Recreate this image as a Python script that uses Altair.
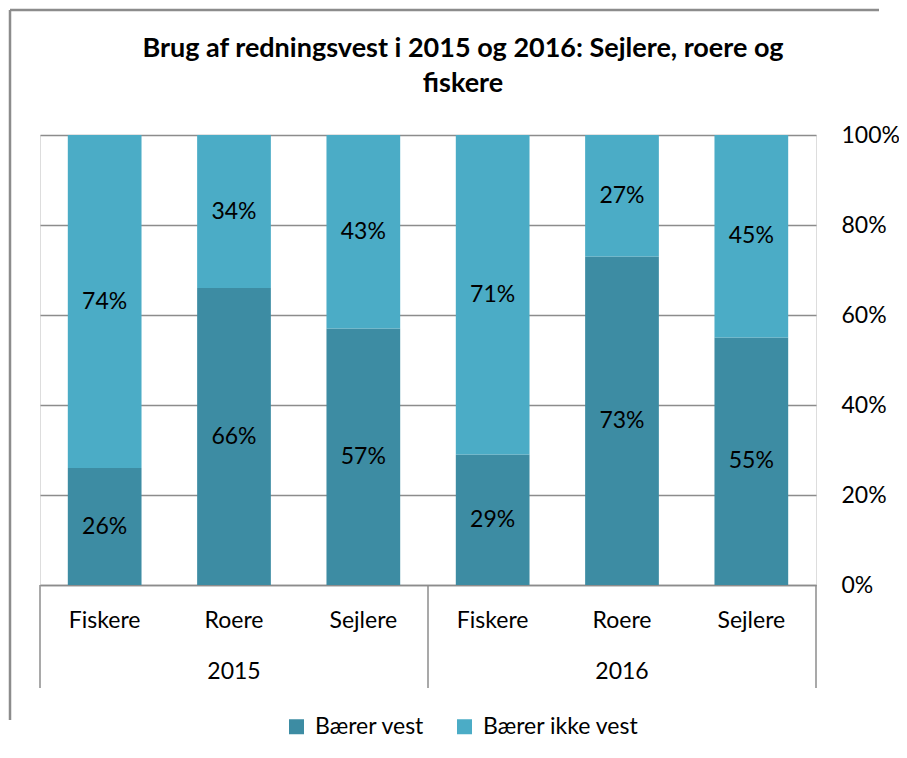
import altair as alt
import pandas as pd

years = ["2015", "2015", "2015", "2016", "2016", "2016"]
groups = ["Fiskere", "Roere", "Sejlere", "Fiskere", "Roere", "Sejlere"]
wears = [26, 66, 57, 29, 73, 55]
not_wears = [74, 34, 43, 71, 27, 45]
series = ["Bærer vest", "Bærer ikke vest"]
colors = ["#3D8CA3", "#4BACC6"]
year_labels = ["2015", "2016"]
year_pos = [1.5, 4.5]
sep_pos = [0, 3, 6]
title_text = "Brug af redningsvest i 2015 og 2016: Sejlere, roere og\nfiskere"

FONT = "Lato"
GRAY = "#8C8C8C"
FS = 23

rows = []
for y, g, a, b in zip(years, groups, wears, not_wears):
    key = f"{y}|{g}"
    rows.append({"key": key, "group": g, "series": series[0], "ord": 0, "value": a / 100})
    rows.append({"key": key, "group": g, "series": series[1], "ord": 1, "value": b / 100})
df = pd.DataFrame(rows)
keys = [f"{y}|{g}" for y, g in zip(years, groups)]

W, H = 776, 450
PL, PT, PR, PB = 32, 127, 83, 155

band_scale = alt.Scale(domain=keys, paddingInner=0.43, paddingOuter=0.215)

xband = alt.X(
    "key:N",
    sort=keys,
    scale=band_scale,
    axis=alt.Axis(
        title=None,
        orient="bottom",
        labelExpr="split(datum.value, '|')[1]",
        labelAngle=0,
        labelFontSize=FS,
        labelFont=FONT,
        labelColor="#000000",
        labelPadding=24,
        ticks=False,
        domainColor=GRAY,
        domainWidth=1.5,
        grid=False,
    ),
)

yscale = alt.Scale(domain=[0, 1])

bars = alt.Chart(df).mark_bar().encode(
    x=xband,
    y=alt.Y(
        "value:Q",
        stack="zero",
        scale=yscale,
        axis=alt.Axis(
            orient="right",
            format="%",
            values=[0, 0.2, 0.4, 0.6, 0.8, 1.0],
            title=None,
            labelFontSize=FS,
            labelFont=FONT,
            labelColor="#000000",
            labelPadding=25,
            domain=False,
            ticks=False,
            gridColor=GRAY,
            gridWidth=1.5,
        ),
    ),
    color=alt.Color(
        "series:N",
        scale=alt.Scale(domain=series, range=colors),
        legend=alt.Legend(
            title=None,
            orient="none",
            legendX=245,
            legendY=580,
            direction="horizontal",
            symbolType="square",
            symbolSize=225,
            symbolStrokeWidth=0,
            labelFontSize=FS,
            labelFont=FONT,
            labelColor="#000000",
            columnPadding=28,
            labelOffset=7,
        ),
    ),
    order=alt.Order("ord:Q"),
)

labels = (
    alt.Chart(df)
    .transform_stack(stack="value", groupby=["key"], as_=["y0", "y1"], sort=[alt.SortField("ord")])
    .transform_calculate(mid="(datum.y0 + datum.y1) / 2", txt="format(datum.value, '.0%')")
    .mark_text(fontSize=FS, font=FONT, color="#000000", baseline="middle")
    .encode(x=alt.X("key:N", sort=keys, scale=band_scale, axis=None),
            y=alt.Y("mid:Q", scale=yscale),
            text="txt:N")
)

pos_scale = alt.Scale(domain=[0, 6], range=[0, W])
seps = (
    alt.Chart(pd.DataFrame({"pos": sep_pos}))
    .mark_rule(color=GRAY, strokeWidth=1.5)
    .encode(x=alt.X("pos:Q", scale=pos_scale, axis=None), y=alt.value(H), y2=alt.value(H + 103))
)

yr = (
    alt.Chart(pd.DataFrame({"pos": year_pos, "year": year_labels}))
    .mark_text(fontSize=FS, font=FONT, color="#000000", baseline="middle")
    .encode(x=alt.X("pos:Q", scale=pos_scale, axis=None), y=alt.value(H + 87), text="year:N")
)

title = (
    alt.Chart(pd.DataFrame({"t": [title_text]}))
    .mark_text(fontSize=27, font=FONT, fontWeight="bold", color="#000000",
               baseline="alphabetic", align="center", lineBreak="\n", lineHeight=35)
    .encode(x=alt.value(W / 2 + 35), y=alt.value(-78), text="t:N")
)

frame = pd.DataFrame({"a": [0]})
border_top = (
    alt.Chart(frame)
    .mark_rule(color=GRAY, strokeWidth=2.5)
    .encode(x=alt.value(-30), x2=alt.value(W + PR - 20), y=alt.value(-125))
)
border_left = (
    alt.Chart(frame)
    .mark_rule(color=GRAY, strokeWidth=2.5)
    .encode(x=alt.value(-30), y=alt.value(-125), y2=alt.value(H + PB - 20))
)

chart = (
    alt.layer(bars, labels, seps, yr, title, border_top, border_left)
    .resolve_scale(x="independent")
    .properties(
        width=W,
        height=H,
        autosize=alt.AutoSizeParams(type="none"),
        padding={"left": PL, "top": PT, "right": PR, "bottom": PB},
    )
    .configure_view(strokeWidth=0)
    .configure(background="#FFFFFF")
)

chart.save("out.html", embed_options={"renderer": "svg", "actions": False})
